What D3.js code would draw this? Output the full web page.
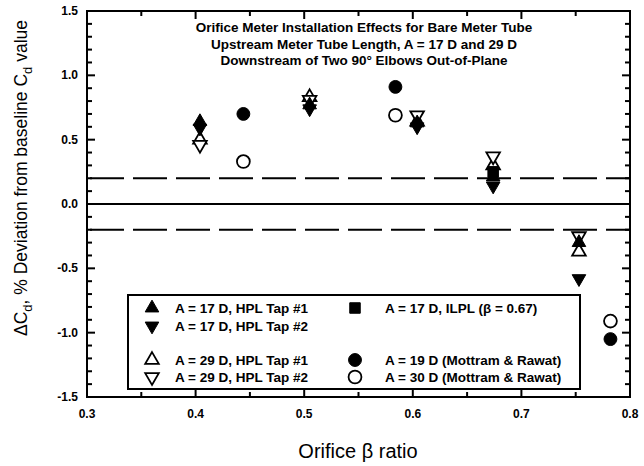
<!DOCTYPE html>
<html>
<head>
<meta charset="utf-8">
<script src="https://cdn.jsdelivr.net/npm/d3@7"></script>
<style>
  body { margin: 0; background: #fff; }
  text { font-family: "Liberation Sans", Arial, sans-serif; fill: #000; }
</style>
</head>
<body>
<div class="chart"></div>
<script>
const w = 644;
const h = 466;
const margin = { left: 87, right: 14, top: 11, bottom: 69 };

// data (beta ratio, % deviation)
const betaHPL = [0.404, 0.505, 0.604, 0.674, 0.753];
const a17Tap1 = [0.64, 0.77, 0.63, 0.21, -0.30];
const a17Tap2 = [0.59, 0.74, 0.60, 0.14, -0.58];
const a29Tap1 = [0.50, 0.83, 0.64, 0.30, -0.37];
const a29Tap2 = [0.46, 0.81, 0.69, 0.37, -0.25];
const betaILPL = [0.674];
const a17ILPL = [0.25];
const betaMR = [0.444, 0.584, 0.782];
const a19MR = [0.70, 0.91, -1.05];
const a30MR = [0.33, 0.69, -0.91];

const xTicks = [0.3, 0.4, 0.5, 0.6, 0.7, 0.8];
const yTicks = [-1.5, -1.0, -0.5, 0.0, 0.5, 1.0, 1.5];
const limitLines = [-0.2, 0.2];

const titleLines = [
    "Orifice Meter Installation Effects for Bare Meter Tube",
    "Upstream Meter Tube Length, A = 17 D and 29 D",
    "Downstream of Two 90\u00b0 Elbows Out-of-Plane"
];

const series = [
    { label: "A = 17 D, HPL Tap #1", x: betaHPL, y: a17Tap1, shape: "up", fill: true },
    { label: "A = 17 D, HPL Tap #2", x: betaHPL, y: a17Tap2, shape: "down", fill: true },
    { label: "A = 29 D, HPL Tap #1", x: betaHPL, y: a29Tap1, shape: "up", fill: false },
    { label: "A = 29 D, HPL Tap #2", x: betaHPL, y: a29Tap2, shape: "down", fill: false },
    { label: "A = 17 D, ILPL (\u03b2 = 0.67)", x: betaILPL, y: a17ILPL, shape: "square", fill: true },
    { label: "A = 19 D (Mottram & Rawat)", x: betaMR, y: a19MR, shape: "circle", fill: true },
    { label: "A = 30 D (Mottram & Rawat)", x: betaMR, y: a30MR, shape: "circle", fill: false }
];

const svg = d3.select(".chart")
    .append("svg")
    .attr("width", w)
    .attr("height", h)

const x = d3.scaleLinear().domain([0.3, 0.8]).range([margin.left, w - margin.right]);
const y = d3.scaleLinear().domain([-1.5, 1.5]).range([h - margin.bottom, margin.top]);

const x0 = x.range()[0], x1 = x.range()[1];
const y0 = y.range()[0], y1 = y.range()[1];

// reference lines
svg.append("line")
    .attr("x1", x0).attr("x2", x1)
    .attr("y1", y(0)).attr("y2", y(0))
    .attr("stroke", "#000").attr("stroke-width", 2);

svg.selectAll(".limit")
    .data(limitLines)
    .enter()
    .append("line")
    .attr("class", "limit")
    .attr("x1", x0).attr("x2", x1)
    .attr("y1", (d) => y(d)).attr("y2", (d) => y(d))
    .attr("stroke", "#000").attr("stroke-width", 2)
    .attr("stroke-dasharray", "34,9")
    .attr("stroke-dashoffset", -3);

// frame
svg.append("rect")
    .attr("x", x0).attr("y", y1)
    .attr("width", x1 - x0).attr("height", y0 - y1)
    .attr("fill", "none").attr("stroke", "#000").attr("stroke-width", 2);

// inward ticks on all four sides
const xMinor = d3.range(0, 11).map((i) => 0.3 + i * 0.05);
const yMinor = d3.range(0, 31).map((i) => -1.5 + i * 0.1);

function tick(ax, ay, bx, by) {
    svg.append("line")
        .attr("x1", ax).attr("y1", ay)
        .attr("x2", bx).attr("y2", by)
        .attr("stroke", "#000")
        .attr("stroke-width", 2);
}
xMinor.forEach(function (v, i) {
    const len = i % 2 === 0 ? 8 : 5;
    tick(x(v), y0, x(v), y0 - len);
    tick(x(v), y1, x(v), y1 + len);
});
yMinor.forEach(function (v, i) {
    const len = i % 5 === 0 ? 8 : 5;
    tick(x0, y(v), x0 + len, y(v));
    tick(x1, y(v), x1 - len, y(v));
});

// tick labels
svg.selectAll(".xlab")
    .data(xTicks)
    .enter()
    .append("text")
    .attr("x", (d) => x(d))
    .attr("y", y0 + 21)
    .attr("text-anchor", "middle")
    .style("font-size", "12px")
    .style("font-weight", "bold")
    .text((d) => d.toFixed(1));

svg.selectAll(".ylab")
    .data(yTicks)
    .enter()
    .append("text")
    .attr("x", x0 - 9)
    .attr("y", (d) => y(d) + 4)
    .attr("text-anchor", "end")
    .style("font-size", "12px")
    .style("font-weight", "bold")
    .text((d) => d.toFixed(1));

// axis titles
svg.append("text")
    .attr("x", 358)
    .attr("y", 458)
    .attr("text-anchor", "middle")
    .style("font-size", "20px")
    .text("Orifice \u03b2 ratio");

const yTitle = svg.append("text")
    .attr("transform", "translate(27," + 178 + ") rotate(-90)")
    .attr("text-anchor", "middle")
    .style("font-size", "17.5px");
yTitle.append("tspan").text("\u0394C");
yTitle.append("tspan").attr("dy", 5).style("font-size", "13px").text("d");
yTitle.append("tspan").attr("dy", -5).text(", % Deviation from baseline C");
yTitle.append("tspan").attr("dy", 5).style("font-size", "13px").text("d");
yTitle.append("tspan").attr("dy", -5).text(" value");

// chart title
svg.selectAll(".title")
    .data(titleLines)
    .enter()
    .append("text")
    .attr("x", 364)
    .attr("y", (d, i) => 32 + i * 16.5)
    .attr("text-anchor", "middle")
    .style("font-size", "13.5px")
    .style("font-weight", "bold")
    .text((d) => d);

// markers
function markerPath(shape) {
    if (shape === "circle") return d3.symbol(d3.symbolCircle, 130)();
    if (shape === "square") return d3.symbol(d3.symbolSquare, 110)();
    return d3.symbol(d3.symbolTriangle, 80)();
}

function drawMarker(g, s) {
    return g.append("path")
        .attr("d", markerPath(s.shape))
        .attr("fill", s.fill ? "#000" : "#fff")
        .attr("stroke", "#000")
        .attr("stroke-width", s.fill ? 1 : 1.8);
}

const drawOrder = [2, 3, 0, 1, 4, 5, 6];
drawOrder.forEach(function (k) {
    const s = series[k];
    const pts = s.x.map((b, i) => [b, s.y[i]]);
    svg.append("g").selectAll("g")
        .data(pts)
        .enter()
        .append("g")
        .attr("transform", (d) => "translate(" + x(d[0]) + "," + y(d[1]) + ")" + (s.shape === "down" ? " rotate(180)" : ""))
        .each(function () { drawMarker(d3.select(this), s); });
});

// legend
const legend = svg.append("g");
legend.append("rect")
    .attr("x", 128).attr("y", 295)
    .attr("width", 452).attr("height", 94)
    .attr("fill", "#fff").attr("stroke", "#000").attr("stroke-width", 2);

const legendPos = [
    [152, 308], [152, 326], [152, 360], [152, 377],
    [355, 308], [355, 360], [355, 377]
];

series.forEach(function (s, i) {
    const p = legendPos[i];
    const g = legend.append("g")
        .attr("transform", "translate(" + p[0] + "," + p[1] + ")" + (s.shape === "down" ? " rotate(180)" : ""));
    drawMarker(g, s);
    legend.append("text")
        .attr("x", p[0] + (i < 4 ? 23 : 30))
        .attr("y", p[1] + 5)
        .style("font-size", "13.5px")
        .style("font-weight", "bold")
        .text(s.label);
});
</script>
</body>
</html>
